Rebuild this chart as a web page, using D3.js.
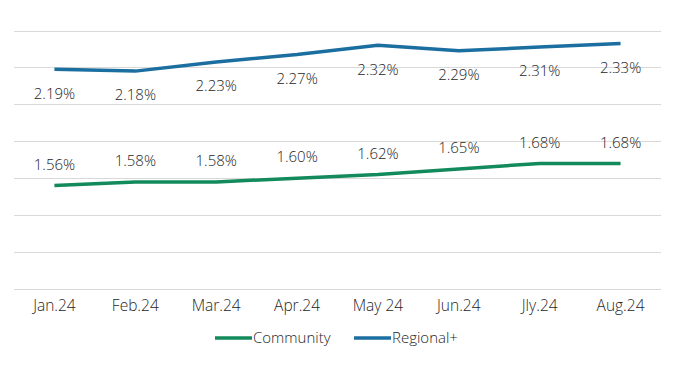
<!DOCTYPE html>
<html>
<head>
<meta charset="utf-8">
<script src="https://cdn.jsdelivr.net/npm/d3@7"></script>
<style>
  body { margin: 0; background: #fff; }
  text { font-family: "Open Sans", Lato, sans-serif; font-weight: 300; fill: #262626; }
</style>
</head>
<body>
<svg id="chart"></svg>
<script>
const months = ["Jan.24", "Feb.24", "Mar.24", "Apr.24", "May 24", "Jun.24", "Jly.24", "Aug.24"];
const community = [1.56, 1.58, 1.58, 1.60, 1.62, 1.65, 1.68, 1.68];
const regional = [2.19, 2.18, 2.23, 2.27, 2.32, 2.29, 2.31, 2.33];
const yTicks = [1.0, 1.2, 1.4, 1.6, 1.8, 2.0, 2.2, 2.4];

const width = 680;
const height = 375;
const margin = { top: 30.5, right: 19, bottom: 86, left: 14 };

const series = [
  { name: "Community", values: community, color: "#138a5c", labelDy: -21 },
  { name: "Regional+", values: regional, color: "#1b6ea0", labelDy: 24 },
];

const x = d3
  .scaleBand()
  .domain(months)
  .range([margin.left, width - margin.right]);
const y = d3
  .scaleLinear()
  .domain([1.0, 2.4])
  .range([height - margin.bottom, margin.top]);

const svg = d3.select("#chart").attr("width", width).attr("height", height);

// gridlines
svg
  .append("g")
  .selectAll("line")
  .data(yTicks)
  .join("line")
  .attr("x1", margin.left)
  .attr("x2", width - margin.right)
  .attr("y1", (d) => Math.round(y(d)) + 0.5)
  .attr("y2", (d) => Math.round(y(d)) + 0.5)
  .attr("stroke", "#d9d9d9")
  .attr("stroke-width", 1);

// x axis labels
svg
  .append("g")
  .selectAll("text")
  .data(months)
  .join("text")
  .attr("x", (d) => x(d) + x.bandwidth() / 2)
  .attr("y", height - margin.bottom + 17)
  .attr("dy", "0.35em")
  .attr("text-anchor", "middle")
  .style("font-size", "15.5px")
  .text((d) => d);

const line = d3
  .line()
  .x((d, i) => x(months[i]) + x.bandwidth() / 2)
  .y((d) => y(d));

series.forEach((s) => {
  svg
    .append("path")
    .datum(s.values)
    .attr("d", line)
    .attr("fill", "none")
    .attr("stroke", s.color)
    .attr("stroke-width", 3.5)
    .attr("stroke-linejoin", "round");

  svg
    .append("g")
    .selectAll("text")
    .data(s.values)
    .join("text")
    .attr("x", (d, i) => x(months[i]) + x.bandwidth() / 2)
    .attr("y", (d) => y(d) + s.labelDy)
    .attr("dy", "0.35em")
    .attr("text-anchor", "middle")
    .style("font-size", "15px")
    .text((d) => d.toFixed(2) + "%");
});

// legend
const legend = svg
  .append("g")
  .selectAll("g")
  .data(series)
  .join("g")
  .attr("transform", (d, i) => `translate(${[215, 354][i]}, 338)`);
legend
  .append("line")
  .attr("x1", 0)
  .attr("x2", 37)
  .attr("stroke", (d) => d.color)
  .attr("stroke-width", 3.5);
legend
  .append("text")
  .attr("x", 38)
  .attr("dy", "0.35em")
  .style("font-size", "15px")
  .text((d) => d.name);
</script>
</body>
</html>
